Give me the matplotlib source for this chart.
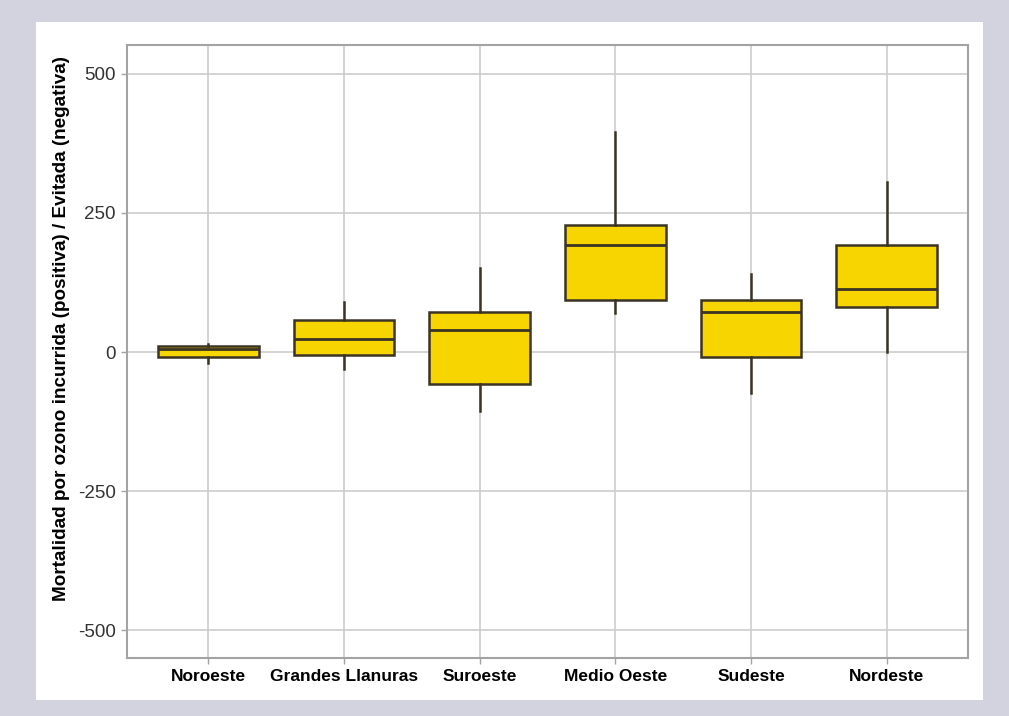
import matplotlib.pyplot as plt
from matplotlib.patches import Rectangle

regiones = ["Noroeste", "Grandes Llanuras", "Suroeste", "Medio Oeste", "Sudeste", "Nordeste"]
q1 = [-9, -5, -58, 94, -9, 81]
mediana = [5, 23, 40, 192, 72, 113]
q3 = [11, 58, 72, 228, 94, 192]
bigote_inf = [-20, -31, -106, 70, -74, 0]
bigote_sup = [14, 90, 151, 396, 140, 306]
yticks = [-500, -250, 0, 250, 500]

stats = []
for nombre, lo, a, m, b, hi in zip(regiones, bigote_inf, q1, mediana, q3, bigote_sup):
    stats.append(dict(label=nombre, whislo=lo, q1=a, med=m, q3=b, whishi=hi, fliers=[]))

fig = plt.figure(figsize=(10.09, 7.16), dpi=100)
fig.patch.set_facecolor("#d2d3df")
# white card behind the plot
fig.add_artist(Rectangle((36 / 1009, 1 - 700 / 716), 947 / 1009, 678 / 716,
                         transform=fig.transFigure, facecolor="white", edgecolor="none", zorder=0))

ax = fig.add_axes([127 / 1009, 1 - 658 / 716, 841 / 1009, 613 / 716])
ax.set_facecolor("white")

borde = "#3b3324"
ax.bxp(stats, positions=range(1, 7), widths=0.74, patch_artist=True, showcaps=False,
       boxprops=dict(facecolor="#f7d500", edgecolor=borde, linewidth=1.8),
       medianprops=dict(color=borde, linewidth=2.0),
       whiskerprops=dict(color=borde, linewidth=1.8), zorder=3)

ax.set_xlim(0.4, 6.6)
ax.set_ylim(-550, 552)
ax.set_yticks(yticks)
ax.set_yticklabels([str(v) for v in yticks], fontsize=13.5, family="Liberation Sans",
                   color="#333333")
ax.set_xticklabels(regiones, fontsize=12.5, fontweight="bold", family="Liberation Sans")
ax.grid(True, color="#cdcdcd", linewidth=1.2, zorder=0)
ax.set_axisbelow(True)
for s in ax.spines.values():
    s.set_color("#a3a3a3")
    s.set_linewidth(1.5)
ax.tick_params(axis="both", length=4, width=1, color="#a3a3a3", pad=4)

ax.set_ylabel("Mortalidad por ozono incurrida (positiva) / Evitada (negativa)",
              fontsize=13.6, fontweight="bold", family="Liberation Sans")
ax.yaxis.set_label_coords(-0.068, 0.538)

fig.savefig("out.png", dpi=100, facecolor=fig.get_facecolor())
